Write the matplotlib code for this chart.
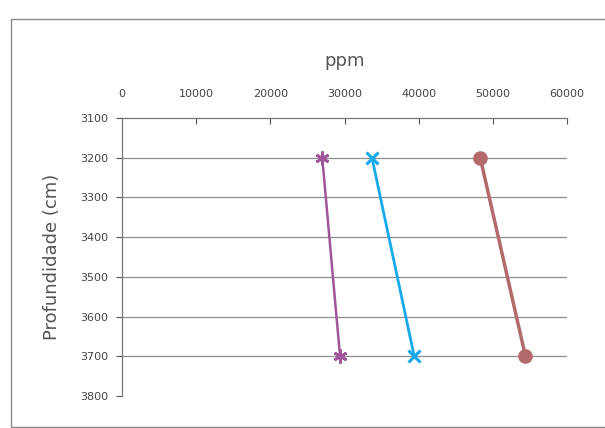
import matplotlib
matplotlib.use("Agg")
import matplotlib.pyplot as plt
from matplotlib.patches import Rectangle

# Depth profile (cm) and concentrations (ppm)
depth = [3200, 3700]
series_star = [27000, 29400]
series_x = [33700, 39400]
series_circle = [48300, 54400]

x_ticks = [0, 10000, 20000, 30000, 40000, 50000, 60000]
y_ticks = [3100, 3200, 3300, 3400, 3500, 3600, 3700, 3800]

fig = plt.figure(figsize=(6.05, 4.28), dpi=100)
fig.patch.set_facecolor("white")

# chart-area frame
fig.add_artist(Rectangle((11 / 605, 1 / 428), 1.2, 408 / 428, transform=fig.transFigure,
                         fill=False, edgecolor="#8a8a8a", linewidth=1.0))

ax = fig.add_axes([122 / 605, 32 / 428, 445 / 605, 278 / 428])
ax.set_xlim(0, 60000)
ax.set_ylim(3800, 3100)

for y in y_ticks[1:-1]:
    ax.axhline(y, color="#8f8f8f", linewidth=0.9, zorder=1)

ax.plot(series_star, depth, color="#a2559b", linewidth=1.8, marker=(6, 2, 0),
        markersize=10, markeredgewidth=2.0, zorder=3)
ax.plot(series_x, depth, color="#16a9ec", linewidth=2, marker="x",
        markersize=9, markeredgewidth=2.2, zorder=3)
ax.plot(series_circle, depth, color="#b36a6a", linewidth=2.5, marker="o",
        markersize=9.5, zorder=3)

ax.xaxis.tick_top()
ax.xaxis.set_label_position("top")
ax.set_xticks(x_ticks)
ax.set_xticklabels([str(v) for v in x_ticks])
ax.set_yticks(y_ticks)
ax.set_yticklabels([str(v) for v in y_ticks])

for side in ("right", "bottom"):
    ax.spines[side].set_visible(False)
for side in ("top", "left"):
    ax.spines[side].set_color("#777777")
    ax.spines[side].set_linewidth(0.9)

ax.tick_params(axis="x", direction="in", length=4, pad=14, labelsize=8,
               colors="#555555", labelcolor="#444444")
ax.tick_params(axis="y", direction="out", length=4, pad=6, labelsize=8,
               colors="#555555", labelcolor="#444444")

ax.set_xlabel("ppm", fontsize=13, color="#555555", labelpad=16)
ax.set_ylabel("Profundidade (cm)", fontsize=13, color="#555555", labelpad=14)

fig.savefig("out.png", dpi=100)
